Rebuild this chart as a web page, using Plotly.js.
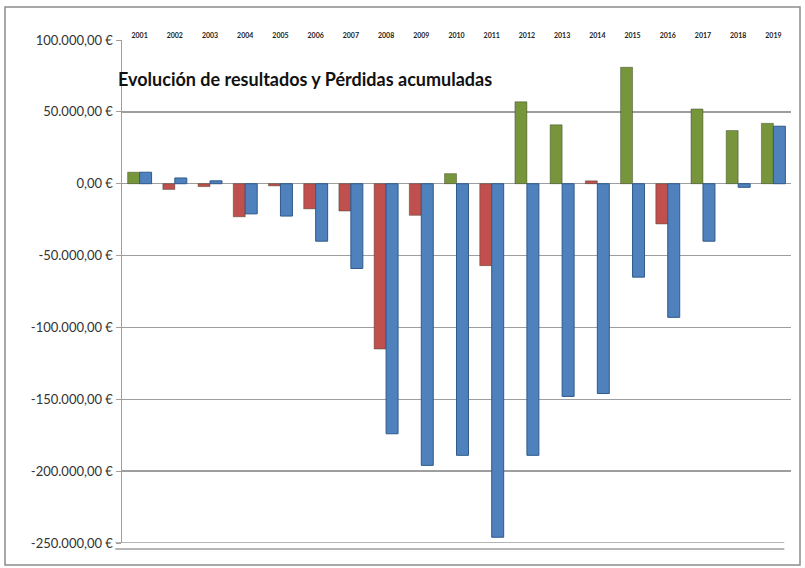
<!DOCTYPE html>
<html>
<head>
<meta charset="utf-8">
<script src="https://cdn.plot.ly/plotly-3.0.1.min.js"></script>
<style>html,body{margin:0;padding:0;background:#fff;}#chart{width:805px;height:568px;}</style>
</head>
<body>
<div id="chart"></div>
<script>
const years = ["2001","2002","2003","2004","2005","2006","2007","2008","2009","2010","2011","2012","2013","2014","2015","2016","2017","2018","2019"];
const resultados = [8000,-4000,-2000,-23000,-1500,-17500,-19000,-115000,-22000,7000,-57000,57000,41000,2000,81000,-28000,52000,37000,42000];
const acumuladas = [8000,4000,2000,-21000,-22500,-40000,-59000,-174000,-196000,-189000,-246000,-189000,-148000,-146000,-65000,-93000,-40000,-2500,40000];
const resultadosColors = ["#77953A","#C0504D","#C0504D","#C0504D","#C0504D","#C0504D","#C0504D","#C0504D","#C0504D","#77953A","#C0504D","#77953A","#77953A","#C0504D","#77953A","#C0504D","#77953A","#77953A","#77953A"];
const tickVals = [100000,50000,0,-50000,-100000,-150000,-200000,-250000];
const tickText = ["100.000,00 €","50.000,00 €","0,00 €","-50.000,00 €","-100.000,00 €","-150.000,00 €","-200.000,00 €","-250.000,00 €"];

const traces = [
  {type:"bar", x:years, y:resultados, name:"Resultado",
   marker:{color:resultadosColors, line:{color:"rgba(40,50,30,0.4)", width:1}}},
  {type:"bar", x:years, y:acumuladas, name:"Pérdidas acumuladas",
   marker:{color:"#4F81BD", line:{color:"#2E5A8C", width:1}}}
];

const layout = {
  width:805, height:568,
  margin:{l:122, r:14, t:40, b:25},
  paper_bgcolor:"#ffffff", plot_bgcolor:"#ffffff",
  showlegend:false,
  barmode:"group", bargap:0.32, bargroupgap:0,
  font:{family:"Lato, 'Open Sans', sans-serif", color:"#222"},
  title:{text:"<b>Evolución de resultados y Pérdidas acumuladas</b>",
         x:118/805, xanchor:"left", xref:"container",
         y:1-80/568, yanchor:"middle", yref:"container",
         font:{family:"Lato, 'Open Sans', sans-serif", size:18, color:"#111"}},
  xaxis:{side:"top", type:"category", tickfont:{size:7, color:"#222", family:"Lato, sans-serif", weight:"bold"},
         ticks:"", showgrid:false, showline:false, fixedrange:true, automargin:false},
  yaxis:{range:[-250000,100000], tickvals:tickVals, ticktext:tickText,
         tickfont:{size:13, color:"#333"}, showgrid:true, gridcolor:"#9E9E9E", gridwidth:1.5,
         zeroline:true, zerolinecolor:"#9E9E9E", zerolinewidth:1.5,
         showline:true, linecolor:"#9E9E9E", linewidth:1.5, ticks:"outside", ticklen:5, tickcolor:"#9E9E9E",
         automargin:false},
  shapes:[
    {type:"line", xref:"paper", yref:"y", x0:-0.01, x1:0.99, y0:-250000, y1:-250000, line:{color:"#9E9E9E", width:1.5}},
    {type:"line", xref:"paper", yref:"paper", x0:-0.01, x1:0.99, y0:-0.012, y1:-0.012, line:{color:"#9E9E9E", width:1.5}},
    {type:"rect", xref:"paper", yref:"paper",
     x0:(5-122)/669, x1:(800-122)/669, y0:(543-565)/503, y1:(543-7)/503,
     line:{color:"#8C8C8C", width:1.5}, fillcolor:"rgba(0,0,0,0)"}
  ]
};

Plotly.newPlot("chart", traces, layout, {displayModeBar:false, staticPlot:true});
</script>
</body>
</html>
